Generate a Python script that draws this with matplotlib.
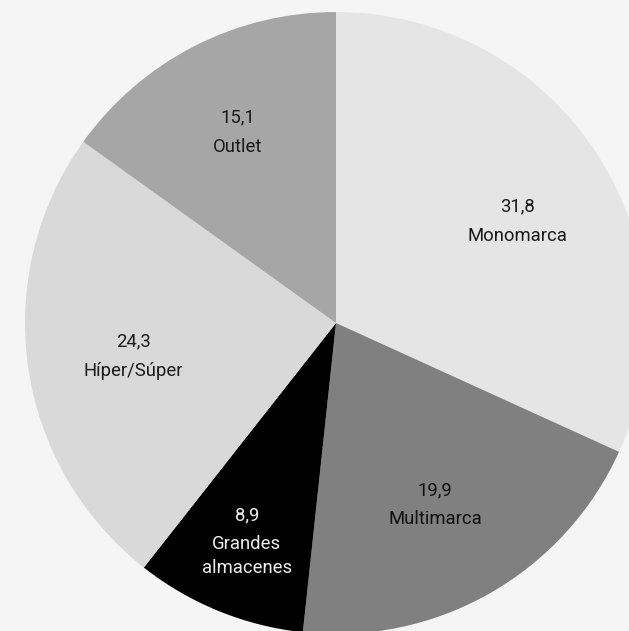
import numpy as np
import matplotlib.pyplot as plt

# cuota por canal de venta (%)
canales = ["Monomarca", "Multimarca", "Grandes\nalmacenes", "Híper/Súper", "Outlet"]
cuotas = [31.8, 19.9, 8.9, 24.3, 15.1]
etiquetas = ["31,8", "19,9", "8,9", "24,3", "15,1"]

colores = ["#e5e5e5", "#808080", "#000000", "#d9d9d9", "#a6a6a6"]
color_texto = ["#1a1a1a", "#111111", "#eeeeee", "#1a1a1a", "#1a1a1a"]
dist_etiqueta = [0.67, 0.665, 0.76, 0.66, 0.69]
giro_etiqueta = [-3.5, -1.0, 0.0, 1.2, 0.0]  # grados

plt.rcParams['font.family'] = ['Roboto', 'DejaVu Sans']

fig = plt.figure(figsize=(6.29, 6.31), dpi=100, facecolor="#f5f5f5")
# el circulo se sale un poco por la derecha y por abajo
ax = fig.add_axes([25 / 629, -3 / 631, 622 / 629, 622 / 631])
ax.set_facecolor("#f5f5f5")

wedges, _ = ax.pie(cuotas, colors=colores, startangle=90, counterclock=False,
                   radius=1, wedgeprops=dict(linewidth=0))
ax.set_xlim(-1, 1)
ax.set_ylim(-1, 1)
ax.set_aspect("auto")
ax.axis("off")

for w, nombre, valor, c, d, g in zip(wedges, canales, etiquetas, color_texto,
                                     dist_etiqueta, giro_etiqueta):
    ang = np.deg2rad((w.theta1 + w.theta2) / 2 + g)
    x, y = d * np.cos(ang), d * np.sin(ang)
    lineas = nombre.split("\n")
    alto = 29 + 24 * (len(lineas) - 1)
    ax.annotate(valor, (x, y), xytext=(0, alto / 2), textcoords="offset pixels",
                ha="center", va="center", fontsize=13.3, color=c)
    for k, linea in enumerate(lineas):
        ax.annotate(linea, (x, y), xytext=(0, alto / 2 - 29 - 24 * k),
                    textcoords="offset pixels", ha="center", va="center",
                    fontsize=13.3, color=c)

fig.savefig("out.png", dpi=100, facecolor=fig.get_facecolor())
